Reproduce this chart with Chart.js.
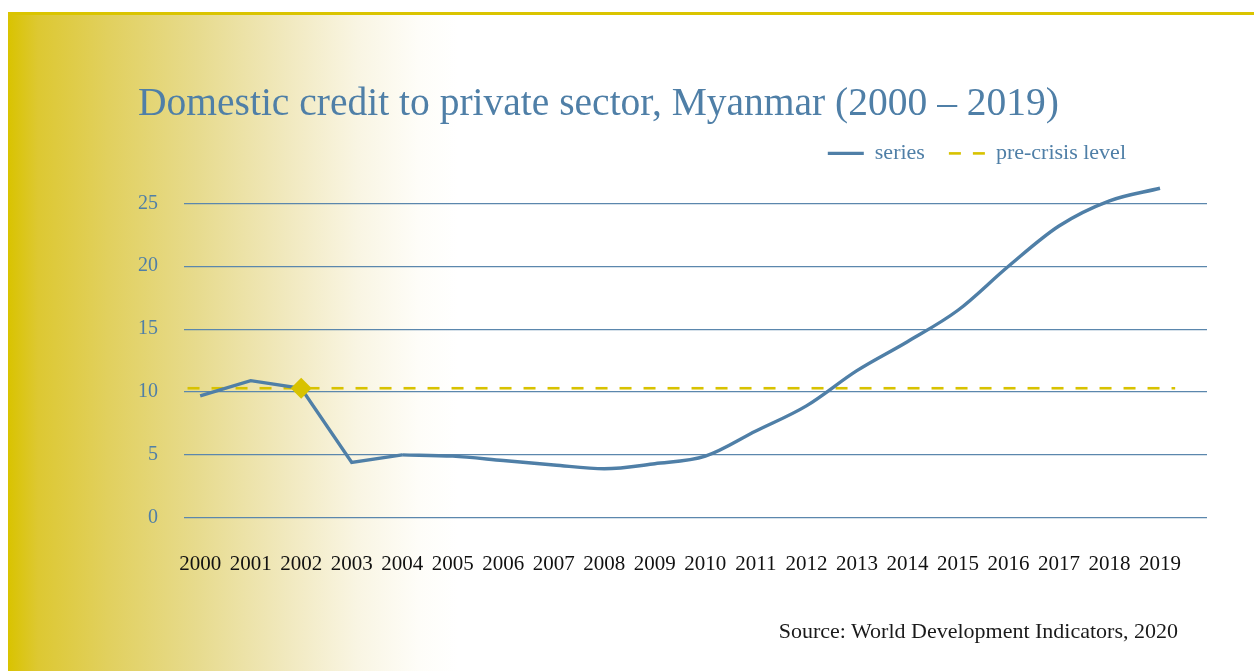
<!DOCTYPE html>
<html>
<head>
<meta charset="utf-8">
<script src="https://cdn.jsdelivr.net/npm/chart.js@4"></script>
<style>
  html, body { margin: 0; padding: 0; background: #fff; }
  body { width: 1254px; height: 671px; position: relative; overflow: hidden; }
  #panel {
    position: absolute; left: 8px; top: 12px; width: 1246px; height: 659px;
    border-top: 3px solid #dac400; box-sizing: border-box;
    background: linear-gradient(to right, #d9c300 0px, #ddc832 30px, #e1d05e 100px, #e7db8e 190px, #f1e9bf 280px, #f9f5e3 350px, #fefdf8 410px, #ffffff 450px);
  }
  #chart { position: absolute; left: 0; top: 0; }
  #source {
    position: absolute; right: 76px; top: 618px;
    font: 22px "Liberation Serif", serif; color: #1a1a1a; line-height: 26px;
  }
</style>
</head>
<body>
<div id="panel"></div>
<canvas id="chart" width="1254" height="671"></canvas>
<div id="source">Source: World Development Indicators, 2020</div>
<script>
const years = [2000, 2001, 2002, 2003, 2004, 2005, 2006, 2007, 2008, 2009,
               2010, 2011, 2012, 2013, 2014, 2015, 2016, 2017, 2018, 2019];
const credit = [9.7, 10.9, 10.3, 4.4, 5.0, 4.9, 4.55, 4.2, 3.9, 4.3,
                4.9, 6.9, 8.9, 11.7, 14.0, 16.5, 20.0, 23.2, 25.2, 26.2];
const yTicks = [0, 5, 10, 15, 20, 25];
const crisisYear = 2002;
const preCrisisLevel = 10.3;
const levelFrom = 1999.75;
const levelTo = 2019.3;

const BLUE = '#4f7fa7';
const GOLD = '#d8c200';
const SERIF = '"Liberation Serif", "Times New Roman", serif';

// the early years are joined straight, the later ones smoothed
const breakIdx = years.indexOf(2004);
const straightPart = years.slice(0, breakIdx + 1).map((y, i) => ({ x: y, y: credit[i] }));
const smoothPart = years.slice(breakIdx).map((y, i) => ({ x: y, y: credit[breakIdx + i] }));

// title lines up with the tick labels, legend sits in from the plot's right edge
const boxShift = {
  id: 'boxShift',
  afterLayout(chart) {
    if (chart.titleBlock) { chart.titleBlock.left += 26; chart.titleBlock.right += 26; }
    if (chart.legend) { chart.legend.right -= 57; }
  }
};

function legendLabels(chart) {
  const items = Chart.defaults.plugins.legend.labels.generateLabels(chart);
  return items
    .filter(it => it.text === 'series' || it.text === 'pre-crisis level')
    .map(it => {
      const ds = chart.data.datasets[it.datasetIndex];
      it.lineDash = ds.borderDash || [];
      it.lineWidth = ds.borderWidth;
      it.strokeStyle = ds.borderColor;
      return it;
    });
}

new Chart(document.getElementById('chart'), {
  type: 'line',
  data: {
    datasets: [
      { label: 'crisis', data: [{ x: crisisYear, y: preCrisisLevel }], showLine: false,
        pointStyle: 'rectRot', pointRadius: 10.5, pointBackgroundColor: GOLD, pointBorderWidth: 0, order: 0 },
      { label: 'series', data: straightPart, borderColor: BLUE, borderWidth: 3.4,
        pointRadius: 0, tension: 0, order: 1 },
      { label: 'series-smooth', data: smoothPart, borderColor: BLUE, borderWidth: 3.4,
        pointRadius: 0, cubicInterpolationMode: 'monotone', order: 1 },
      { label: 'pre-crisis level', data: [{ x: levelFrom, y: preCrisisLevel }, { x: levelTo, y: preCrisisLevel }],
        borderColor: GOLD, borderWidth: 2.6, borderDash: [12, 12], pointRadius: 0, order: 2 }
    ]
  },
  options: {
    responsive: false,
    animation: false,
    layout: { autoPadding: false, padding: { left: 112, right: 47, top: 0, bottom: 68 } },
    plugins: {
      tooltip: { enabled: false },
      title: {
        display: true, align: 'start',
        text: 'Domestic credit to private sector, Myanmar (2000 – 2019)',
        color: BLUE, font: { family: SERIF, size: 39.5, weight: 'normal' },
        padding: { top: 81, bottom: -10 }
      },
      legend: {
        display: true, position: 'top', align: 'end',
        labels: {
          color: BLUE, font: { family: SERIF, size: 22 },
          usePointStyle: true, pointStyle: 'line', pointStyleWidth: 36, boxWidth: 36,
          padding: 24,
          generateLabels: legendLabels
        }
      }
    },
    scales: {
      x: {
        type: 'linear', min: 1999.68, max: 2019.93,
        afterBuildTicks: scale => { scale.ticks = years.map(v => ({ value: v })); },
        grid: { display: false },
        border: { display: false },
        ticks: {
          autoSkip: false, maxRotation: 0, padding: 26, color: '#111',
          font: { family: SERIF, size: 21 },
          callback: v => String(v)
        }
      },
      y: {
        min: 0, max: 27.3,
        afterBuildTicks: scale => { scale.ticks = yTicks.map(v => ({ value: v })); },
        grid: { color: '#5b87ad', lineWidth: 1.2, drawTicks: false },
        border: { display: false },
        ticks: { color: BLUE, padding: 26, font: { family: SERIF, size: 20 } }
      }
    }
  },
  plugins: [boxShift]
});
</script>
</body>
</html>
